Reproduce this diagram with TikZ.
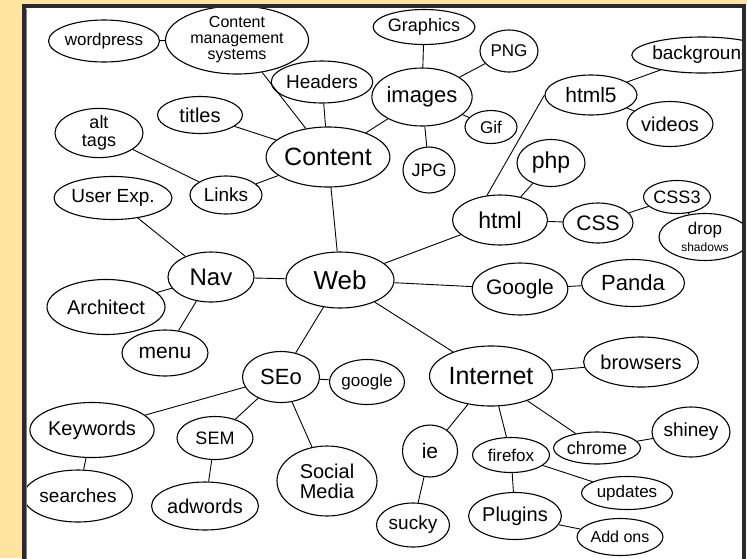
\documentclass[tikz,border=0pt]{standalone}
\usepackage{fontspec}
\setmainfont{Liberation Sans}
\usetikzlibrary{shapes.geometric}
\definecolor{paper}{HTML}{FFE4A0}
\definecolor{framec}{HTML}{2B2B2B}
\tikzset{
  bub/.style n args={3}{draw, ellipse, line width=1.1pt, inner sep=0pt,
    minimum width=#1pt, minimum height=#2pt, align=center,
    font=\fontsize{#3}{#3}\selectfont},
  link/.style={line width=0.9pt},
}
\begin{document}
\begin{tikzpicture}[x=1pt,y=-1pt]
\useasboundingbox (0,0) rectangle (747,558);
\fill[paper] (0,0) rectangle (747,558);
\fill[white] (22,4) rectangle (747,558);
\begin{scope}
\clip (26,8) rectangle (742,560);
% hub and first ring
\node[bub={108}{56}{26}] (web) at (340,280) {Web};
\node[bub={105}{60}{25}] (content) at (328,157) {Content};
\node[bub={86}{50}{24}] (nav) at (211,277) {Nav};
\node[bub={77}{51}{22}] (seo) at (281,377) {SEo};
\node[bub={123}{60}{25}] (internet) at (491,376) {Internet};
\node[bub={95}{52}{21}] (google) at (520,289) {Google};
\node[bub={95}{50}{23}] (html) at (500,220) {html};
% content branch
\node[bub={88}{42}{17}] (wordpress) at (104,41) {wordpress};
\node[bub={143}{68}{16}] (cms) at (237,40) {Content\\management\\systems};
\node[bub={92}{42}{19}] (headers) at (322,82) {Headers};
\node[bub={85}{37}{20}] (titles) at (200,115) {titles};
\node[bub={88}{47}{18}] (alttags) at (99,133) {alt\\tags};
\node[bub={72}{38}{19}] (links) at (226,195) {Links};
\node[bub={98}{35}{18}] (graphics) at (424,27) {Graphics};
\node[bub={58}{42}{17}] (png) at (509,51) {PNG};
\node[bub={100}{58}{22}] (images) at (422,97) {images};
\node[bub={52}{33}{17}] (gif) at (491,127) {Gif};
\node[bub={52}{46}{18}] (jpg) at (429,170) {JPG};
% nav branch
\node[bub={113}{43}{19}] (userexp) at (113,198) {User Exp.};
\node[bub={118}{55}{20}] (architect) at (106,307) {Architect};
\node[bub={86}{46}{21}] (menu) at (165,353) {menu};
% seo branch
\node[bub={75}{45}{17}] (googlelc) at (367,382) {google};
\node[bub={110}{55}{20}] (keywords) at (92,430) {Keywords};
\node[bub={76}{43}{18}] (sem) at (215,438) {SEM};
\node[bub={100}{70}{20}] (social) at (327,481) {Social\\Media};
\node[bub={103}{52}{19}] (searches) at (78,496) {searches};
\node[bub={106}{48}{20}] (adwords) at (205,506) {adwords};
% html branch
\node[bub={92}{40}{21}] (htmlfive) at (591,95) {html5};
\node[bub={128}{36}{19}] (background) at (702,55) {background};
\node[bub={86}{45}{20}] (videos) at (670,124) {videos};
\node[bub={68}{47}{23}] (php) at (551,163) {php};
\node[bub={70}{40}{21}] (css) at (598,223) {CSS};
\node[bub={67}{33}{18}] (cssthree) at (677,197) {CSS3};
\node[bub={92}{47}{17}] (drop) at (705,237) {drop\\{\fontsize{12}{12}\selectfont shadows}};
\node[bub={103}{47}{22}] (panda) at (633,283) {Panda};
% internet branch
\node[bub={108}{50}{20}] (browsers) at (641,362) {browsers};
\node[bub={87}{32}{18}] (chrome) at (597,448) {chrome};
\node[bub={78}{50}{19}] (shiney) at (691,432) {shiney};
\node[bub={55}{52}{21}] (ie) at (430,451) {ie};
\node[bub={77}{35}{17}] (firefox) at (511,455) {firefox};
\node[bub={91}{33}{17}] (updates) at (627,493) {updates};
\node[bub={90}{47}{20}] (plugins) at (515,516) {Plugins};
\node[bub={73}{44}{19}] (sucky) at (413,525) {sucky};
\node[bub={86}{37}{16}] (addons) at (620,537) {Add ons};
% connectors
\draw[link] (wordpress) -- (cms);
\draw[link] (cms) -- (content);
\draw[link] (headers) -- (content);
\draw[link] (titles) -- (content);
\draw[link] (images) -- (content);
\draw[link] (content) -- (links);
\draw[link] (links) -- (alttags);
\draw[link] (content) -- (web);
\draw[link] (images) -- (graphics);
\draw[link] (images) -- (png);
\draw[link] (images) -- (gif);
\draw[link] (images) -- (jpg);
\draw[link] (userexp) -- (nav);
\draw[link] (nav) -- (web);
\draw[link] (nav) -- (architect);
\draw[link] (nav) -- (menu);
\draw[link] (web) -- (seo);
\draw[link] (web) -- (html);
\draw[link] (web) -- (google);
\draw[link] (web) -- (internet);
\draw[link] (google) -- (panda);
\draw[link] (html.118) -- (htmlfive.west);
\draw[link] (html) -- (php);
\draw[link] (html) -- (css);
\draw[link] (css) -- (cssthree);
\draw[link] (cssthree) -- (drop);
\draw[link] (htmlfive) -- (background);
\draw[link] (htmlfive) -- (videos);
\draw[link] (seo) -- (googlelc);
\draw[link] (seo) -- (keywords);
\draw[link] (seo) -- (sem);
\draw[link] (seo) -- (social);
\draw[link] (keywords) -- (searches);
\draw[link] (sem) -- (adwords);
\draw[link] (internet) -- (browsers);
\draw[link] (internet) -- (ie);
\draw[link] (internet) -- (firefox);
\draw[link] (internet) -- (chrome);
\draw[link] (chrome) -- (shiney);
\draw[link] (ie) -- (sucky);
\draw[link] (firefox) -- (updates);
\draw[link] (firefox) -- (plugins);
\draw[link] (plugins) -- (addons);
\end{scope}
% panel frame
\draw[framec, line width=4pt] (24,562) -- (24,6) -- (744,6) -- (744,562);
\draw[gray, line width=1pt] (26.5,562) -- (26.5,8.5);
\end{tikzpicture}
\end{document}
